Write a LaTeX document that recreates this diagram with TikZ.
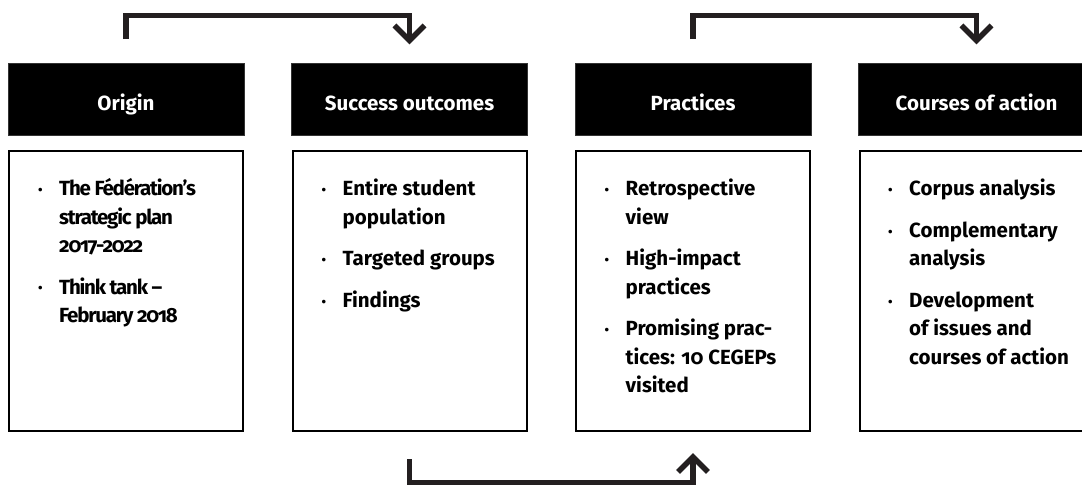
\documentclass[tikz,border=0pt]{standalone}
\usepackage{fontspec}
\setmainfont{Fira Sans}[Numbers=OldStyle]
\definecolor{ink}{HTML}{231F20}
% one bulleted entry: bullet in a 21pt gutter, wrapped lines hang under the text
\newcommand\dotmark{\raisebox{1.2pt}{\fontsize{13}{13}\selectfont •}}
\newcommand\itm[1]{\par\hangindent=21pt\hangafter=1\noindent\makebox[21pt][l]{\dotmark}#1}
\newcommand\itemlist[1]{\parbox[t]{210pt}{\fontsize{20.5}{28.3}\selectfont\bfseries\parskip=13.4pt #1}}
\begin{document}
\begin{tikzpicture}[x=1pt,y=-1pt,
  head/.style={fill=black, draw=black!80, line width=0.6pt, text=white,
    minimum width=236pt, minimum height=72pt, inner sep=0pt,
    font=\fontsize{20.5}{22}\selectfont\bfseries, text height=22pt, text depth=0pt},
  panel/.style={draw=black, line width=2pt, minimum width=234pt,
    minimum height=280pt, inner sep=0pt},
  listtext/.style={anchor=base west, inner sep=0pt},
  flow/.style={draw=ink, line width=5.5pt, line join=miter}]
\useasboundingbox (0,0) rectangle (1082,485);
\clip (0,0) rectangle (1082,485);

% column headers
\node[head] (h1) at (126,99)   {Origin};
\node[head] (h2) at (409.5,99) {Success outcomes};
\node[head] (h3) at (693,99)   {Practices};
\node[head] (h4) at (976.5,99) {Courses of action};

% content panels
\node[panel] (p1) at (126,291)   {};
\node[panel] (p2) at (409.5,291) {};
\node[panel] (p3) at (693,291)   {};
\node[panel] (p4) at (976.5,291) {};

% bulleted contents (first baseline 45.7pt below the panel top)
\node[listtext] (l1) at (38,195.7) {\itemlist{%
  \itm{\addfontfeatures{LetterSpace=-6}The Fédération’s\\strategic plan\\2017-2022}
  \itm{Think tank –\\February 2018}}};
\node[listtext] (l2) at (321.5,195.7) {\itemlist{%
  \itm{Entire student\\population}
  \itm{Targeted groups}
  \itm{Findings}}};
\node[listtext] (l3) at (604.5,195.7) {\itemlist{%
  \itm{Retrospective\\view}
  \itm{High-impact\\practices}
  \itm{Promising prac-\\tices: 10 CEGEPs\\visited}}};
\node[listtext] (l4) at (888,195.7) {\itemlist{%
  \itm{Corpus analysis}
  \itm{Complementary\\analysis}
  \itm{Development\\of issues and\\courses of action}}};

% connector ends
\coordinate (s1) at (126,39);
\coordinate (e1) at (409.5,40.4);
\coordinate (s2) at (693,39);
\coordinate (e2) at (976.5,40.4);
\coordinate (s3) at (409.5,459);
\coordinate (e3) at (693,456.9);

% Origin -> Success outcomes
\draw[flow] (s1) -- (126,15.3) -- (409.5,15.3) -- (e1);
\draw[flow] (e1) ++(-15,-15) -- (e1) -- ++(15,-15);
% Practices -> Courses of action
\draw[flow] (s2) -- (693,15.3) -- (976.5,15.3) -- (e2);
\draw[flow] (e2) ++(-15,-15) -- (e2) -- ++(15,-15);
% Success outcomes -> Practices (below)
\draw[flow] (s3) -- (409.5,482.5) -- (693,482.5) -- (e3);
\draw[flow] (e3) ++(-15,15) -- (e3) -- ++(15,15);
\end{tikzpicture}
\end{document}
